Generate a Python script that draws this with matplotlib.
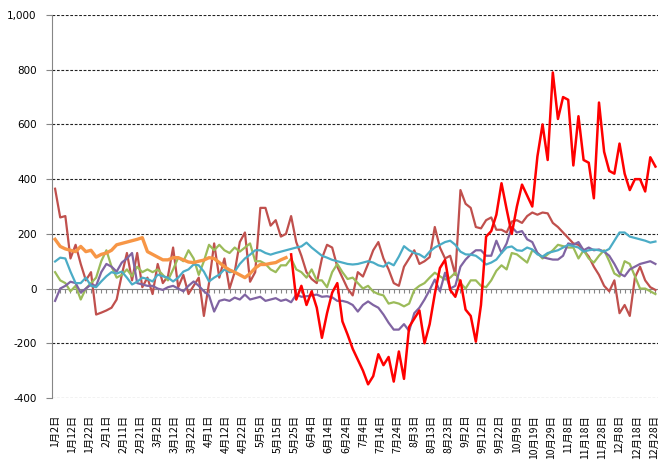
import numpy as np
import matplotlib
matplotlib.use("Agg")
import matplotlib.pyplot as plt
from matplotlib.ticker import FuncFormatter

# x tick labels (one every 10 categories)
dates = ["1月2日", "1月12日", "1月22日", "2月1日", "2月11日", "2月21日", "3月2日",
         "3月12日", "3月22日", "4月1日", "4月12日", "4月22日", "5月5日", "5月15日",
         "5月25日", "6月4日", "6月14日", "6月24日", "7月4日", "7月14日", "7月24日",
         "8月3日", "8月13日", "8月23日", "9月2日", "9月12日", "9月22日", "10月9日",
         "10月19日", "10月29日", "11月8日", "11月18日", "11月28日", "12月8日",
         "12月18日", "12月28日"]

# values sampled every 3rd category
dark_red = [365, 260, 265, 110, 160, 90, 30, 60, -95, -88, -80, -70, -40, 50, 130, 30,
            130, 5, 40, -20, 90, 20, 45, 150, 5, 50, -20, 10, 40, -100, 20, 165, 40, 110,
            0, 60, 170, 205, 25, 60, 295, 295, 230, 250, 190, 200, 265, 170, 120, 60, 35,
            20, 110, 160, 150, 80, 40, 0, -25, 60, 44, 90, 140, 170, 110, 70, 20, 10, 80,
            110, 140, 90, 100, 115, 225, 150, 110, 120, 50, 360, 310, 295, 225, 220, 250,
            260, 215, 215, 205, 245, 250, 240, 265, 278, 270, 278, 275, 240, 225, 205,
            185, 165, 160, 140, 117, 80, 50, 10, -10, 30, -90, -60, -100, 40, 80, 30, 5, -5]

red_start = 138
red = [125, -40, 10, -60, -10, -70, -180, -90, -15, 20, -120, -168, -220, -260, -300,
       -350, -320, -240, -280, -250, -340, -230, -330, -140, -110, -80, -200, -130, -20,
       75, 105, -5, -30, 30, -77, -100, -194, -60, 190, 210, 270, 385, 290, 200, 300, 380,
       340, 300, 483, 600, 470, 790, 620, 700, 690, 450, 630, 470, 460, 330, 680, 500,
       430, 420, 530, 420, 360, 400, 400, 355, 480, 446]

green = [60, 30, 20, -10, 10, -40, 0, 20, 40, 100, 140, 80, 40, 50, 70, 45, 80, 60, 70,
         60, 70, 50, 30, 70, 113, 100, 140, 110, 50, 100, 160, 140, 160, 140, 130, 150,
         135, 150, 165, 100, 100, 90, 70, 60, 85, 85, 110, 70, 60, 40, 70, 30, 30, 5, 60,
         90, 60, 35, 40, 20, 0, 10, -11, -20, -25, -55, -50, -55, -65, -55, -5, 10, 20, 40,
         58, 45, 33, 40, 58, 20, 0, 30, 30, 10, 5, 30, 65, 85, 70, 130, 125, 110, 95, 140,
         130, 110, 125, 140, 160, 155, 150, 150, 110, 140, 110, 95, 120, 140, 100, 55, 44,
         100, 90, 45, 0, 0, -10, -20]

purple = [-45, 0, 10, 25, 20, -15, 0, 15, 10, 60, 90, 80, 62, 95, 110, 130, 20, 15, 10,
          10, 0, -5, 5, 10, 0, -10, 10, 26, 10, -10, -25, -84, -45, -40, -45, -33, -40,
          -22, -40, -35, -30, -45, -40, -35, -45, -40, -50, -22, -30, -28, -25, -22, -30,
          -28, -32, -45, -45, -50, -60, -84, -60, -47, -60, -70, -95, -125, -150, -150,
          -130, -155, -90, -70, -40, -5, 33, -10, 58, 0, 10, 80, 106, 125, 140, 140, 120,
          120, 175, 130, 165, 225, 205, 210, 180, 170, 130, 115, 110, 106, 106, 120, 165,
          160, 170, 140, 150, 140, 143, 135, 120, 90, 55, 45, 70, 80, 90, 95, 100, 90]

teal = [99, 113, 110, 62, 20, 20, 40, 10, 5, 26, 45, 60, 55, 62, 40, 15, 25, 40, 35, 26,
        51, 45, 40, 26, 40, 62, 70, 88, 85, 62, 26, 40, 51, 70, 60, 62, 90, 110, 124, 140,
        140, 130, 124, 130, 135, 140, 145, 150, 154, 168, 150, 135, 120, 113, 105, 100, 95,
        90, 88, 90, 95, 100, 95, 85, 80, 95, 85, 117, 155, 140, 130, 125, 113, 135, 150,
        160, 170, 175, 160, 135, 125, 124, 120, 106, 88, 95, 106, 130, 150, 154, 140, 138,
        150, 143, 125, 117, 130, 135, 140, 150, 160, 155, 150, 135, 140, 143, 140, 135,
        145, 175, 205, 205, 190, 185, 180, 175, 168, 172]

orange = [180, 154, 145, 140, 135, 154, 135, 140, 115, 125, 130, 140, 160, 165, 170, 175,
          180, 186, 135, 125, 115, 105, 105, 113, 113, 105, 97, 95, 100, 104, 113, 110, 95,
          80, 68, 60, 50, 40, 55, 75, 88, 88, 92, 95, 105, 113]

series = [
    (dark_red, 0, "#C0504D", 1.6),
    (green, 0, "#9BBB59", 1.6),
    (purple, 0, "#8064A2", 1.6),
    (teal, 0, "#4BACC6", 1.6),
    (orange, 0, "#F79646", 2.4),
    (red, red_start, "#FF0000", 1.8),
]

fig = plt.figure(figsize=(6.58, 4.62), dpi=100)
ax = fig.add_axes([52 / 658, 1 - 398 / 462, 1 - 52 / 658, (398 - 15) / 462])

for vals, start, color, lw in series:
    x = start + 3 * np.arange(len(vals))
    ax.plot(x, vals, color=color, lw=lw, solid_joinstyle="round", zorder=3)

ax.set_xlim(-1.8, 352.5)
ax.set_ylim(-400, 1000)

yticks = list(range(-400, 1001, 200))
ax.set_yticks(yticks)
ax.yaxis.set_major_formatter(FuncFormatter(lambda v, p: f"{v:,.0f}"))
for v in yticks:
    if v != 0:
        ax.axhline(v, color="#222222", lw=0.8, ls=(0, (2.5, 1.5)), zorder=1)
ax.tick_params(axis="y", length=4, color="#868686", labelsize=7.5, pad=7)

for s in ["top", "right"]:
    ax.spines[s].set_visible(False)
ax.spines["left"].set_color("#868686")
ax.spines["bottom"].set_position(("data", 0))
ax.spines["bottom"].set_color("#868686")
ax.spines["bottom"].set_zorder(2)
ax.set_xticks(np.arange(0, 352, 3))
ax.tick_params(axis="x", length=3, color="#868686", labelbottom=False)

sec = ax.secondary_xaxis("bottom")
sec.set_xticks(np.arange(0, 10 * len(dates), 10))
sec.set_xticklabels(dates, rotation=90, fontfamily=["Noto Sans CJK SC", "DejaVu Sans"],
                    fontsize=7.5)
sec.tick_params(length=0, pad=12)
sec.spines["bottom"].set_visible(False)

fig.savefig("out.png", dpi=100)
